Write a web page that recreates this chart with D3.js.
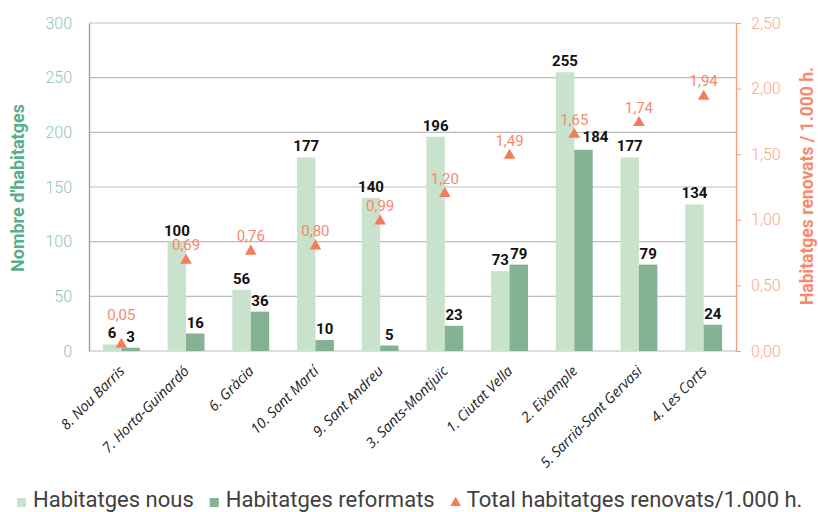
<!DOCTYPE html>
<html>
<head>
<meta charset="utf-8">
<script src="https://cdn.jsdelivr.net/npm/d3@7"></script>
<style>
  body { margin: 0; background: #fff; }
  svg { display: block; font-family: Roboto, "Noto Sans", sans-serif; }
  .bar-label { font-weight: 700; font-size: 15px; fill: #111; }
  .ratio-label { font-size: 15px; fill: #f7896c; }
  .x-label { font-family: "Open Sans", "Noto Sans", sans-serif; font-style: italic; font-size: 14.3px; fill: #222; }
  .legend-text { font-size: 22px; fill: #404040; }
</style>
</head>
<body>
<svg id="chart" width="818" height="512"></svg>
<script>
var categories = ["8. Nou Barris", "7. Horta-Guinardó", "6. Gràcia", "10. Sant Martí",
  "9. Sant Andreu", "3. Sants-Montjuïc", "1. Ciutat Vella", "2. Eixample",
  "5. Sarrià-Sant Gervasi", "4. Les Corts"];
var nous = [6, 100, 56, 177, 140, 196, 73, 255, 177, 134];
var reformats = [3, 16, 36, 10, 5, 23, 79, 184, 79, 24];
var ratio = [0.05, 0.69, 0.76, 0.80, 0.99, 1.20, 1.49, 1.65, 1.74, 1.94];
var leftTicks = [0, 50, 100, 150, 200, 250, 300];
var rightTicks = [0, 0.5, 1, 1.5, 2, 2.5];

var lightGreen = "#c8e2cb", darkGreen = "#84b292", salmon = "#f47c5b";

var svg = d3.select('#chart');
var plotLeft = 89, plotRight = 736, plotTop = 23, plotBottom = 351;

var x = d3.scaleBand().domain(categories).range([plotLeft, plotRight])
  .paddingInner(0.43).paddingOuter(0.215);
var x1 = d3.scaleBand().domain(["nous", "reformats"]).range([0, x.bandwidth()]);
var y = d3.scaleLinear().domain([0, 300]).range([plotBottom, plotTop]);
var y2 = d3.scaleLinear().domain([0, 2.5]).range([plotBottom, plotTop]);
var comma = function(v) { return d3.format(".2f")(v).replace(".", ","); };

var data = categories.map(function(c, i) {
  return { cat: c, nous: nous[i], reformats: reformats[i], ratio: ratio[i] };
});

// grid lines
svg.append("g").selectAll("line")
  .data(leftTicks)
  .enter().append("line")
  .attr("x1", plotLeft).attr("x2", plotRight)
  .attr("y1", function(d) { return y(d); })
  .attr("y2", function(d) { return y(d); })
  .style("stroke", "#bdbdbd")
  .style("stroke-width", 1.2);

// left axis
var yAxis = svg.append("g")
  .attr("transform", "translate(" + plotLeft + ",0)")
  .call(d3.axisLeft(y).tickValues(leftTicks).tickSize(0).tickPadding(17));
yAxis.select(".domain").style("stroke", "#6db596").style("stroke-width", 1.3);
yAxis.selectAll("text")
  .style("font-family", "Roboto, sans-serif")
  .style("font-size", "16px").style("font-weight", 300).style("fill", "#8cc8b1");

// right axis
var y2Axis = svg.append("g")
  .attr("transform", "translate(" + plotRight + ",0)")
  .call(d3.axisRight(y2).tickValues(rightTicks).tickFormat(comma).tickSizeInner(5).tickSizeOuter(0).tickPadding(10));
y2Axis.select(".domain").style("stroke", "#f99a7e").style("stroke-width", 1.3);
y2Axis.selectAll("line").style("stroke", "#f99a7e");
y2Axis.selectAll("text")
  .style("font-family", "Roboto, sans-serif")
  .style("font-size", "16px").style("font-weight", 300).style("fill", "#fba78f");

// bars
var groups = svg.append("g").selectAll("g")
  .data(data)
  .enter().append("g")
  .attr("transform", function(d) { return "translate(" + x(d.cat) + ",0)"; });

groups.append("rect")
  .attr("x", x1("nous"))
  .attr("y", function(d) { return y(d.nous); })
  .attr("width", x1.bandwidth())
  .attr("height", function(d) { return plotBottom - y(d.nous); })
  .style("fill", lightGreen);

groups.append("rect")
  .attr("x", x1("reformats"))
  .attr("y", function(d) { return y(d.reformats); })
  .attr("width", x1.bandwidth())
  .attr("height", function(d) { return plotBottom - y(d.reformats); })
  .style("fill", darkGreen);

groups.append("text")
  .attr("class", "bar-label")
  .attr("text-anchor", "middle")
  .attr("x", x1("nous") + x1.bandwidth() / 2)
  .attr("y", function(d) { return y(d.nous) - 6; })
  .text(function(d) { return d.nous; });

groups.append("text")
  .attr("class", "bar-label")
  .attr("text-anchor", "middle")
  .attr("x", function(d) {
    // the 184 label sits beside the triangle in the original
    return x1("reformats") + x1.bandwidth() / 2 + (d.reformats === 184 ? 12 : 0);
  })
  .attr("y", function(d) { return y(d.reformats) - (d.reformats === 184 ? 8 : 6); })
  .text(function(d) { return d.reformats; });

// triangles
var tri = d3.symbol().type(d3.symbolTriangle).size(58);
svg.append("g").selectAll("path")
  .data(data)
  .enter().append("path")
  .attr("d", tri)
  .attr("transform", function(d) {
    return "translate(" + (x(d.cat) + x.bandwidth() / 2) + "," + y2(d.ratio) + ")";
  })
  .style("fill", salmon);

svg.append("g").selectAll("text")
  .data(data)
  .enter().append("text")
  .attr("class", "ratio-label")
  .attr("text-anchor", "middle")
  .attr("x", function(d) { return x(d.cat) + x.bandwidth() / 2; })
  .attr("y", function(d) {
    // small values get pushed up so they clear the bars
    return y2(d.ratio) - (d.ratio < 0.2 ? 24 : 10);
  })
  .text(function(d) { return comma(d.ratio); });

// x labels
svg.append("g").selectAll("text")
  .data(categories)
  .enter().append("text")
  .attr("class", "x-label")
  .attr("text-anchor", "end")
  .attr("transform", function(d) {
    return "translate(" + (x(d) + x.bandwidth() / 2 + 4) + ",372) rotate(-45)";
  })
  .text(function(d) { return d; });

// axis titles
svg.append("text")
  .attr("transform", "translate(24,188) rotate(-90)")
  .attr("text-anchor", "middle")
  .style("font-size", "18px").style("font-weight", 700).style("fill", "#5aad8c")
  .text("Nombre d'habitatges");

svg.append("text")
  .attr("transform", "translate(813,186) rotate(-90)")
  .attr("text-anchor", "middle")
  .style("font-size", "17.5px").style("font-weight", 700).style("fill", "#f9896c")
  .text("Habitatges renovats / 1.000 h.");

// legend
var legendItems = [
  { label: "Habitatges nous", color: lightGreen, shape: "square" },
  { label: "Habitatges reformats", color: darkGreen, shape: "square" },
  { label: "Total habitatges renovats/1.000 h.", color: salmon, shape: "triangle" }
];
var legend = svg.append("g").attr("transform", "translate(17,507)");
var lx = 0;
legendItems.forEach(function(item) {
  var g = legend.append("g").attr("transform", "translate(" + lx + ",0)");
  if (item.shape === "square") {
    g.append("rect").attr("x", 0).attr("y", -9).attr("width", 9).attr("height", 9).style("fill", item.color);
  } else {
    g.append("path").attr("d", d3.symbol().type(d3.symbolTriangle).size(50))
      .attr("transform", "translate(5,-4)").style("fill", item.color);
  }
  var t = g.append("text").attr("class", "legend-text").attr("x", 16).text(item.label);
  lx += 16 + t.node().getComputedTextLength() + 16;
});
</script>
</body>
</html>
